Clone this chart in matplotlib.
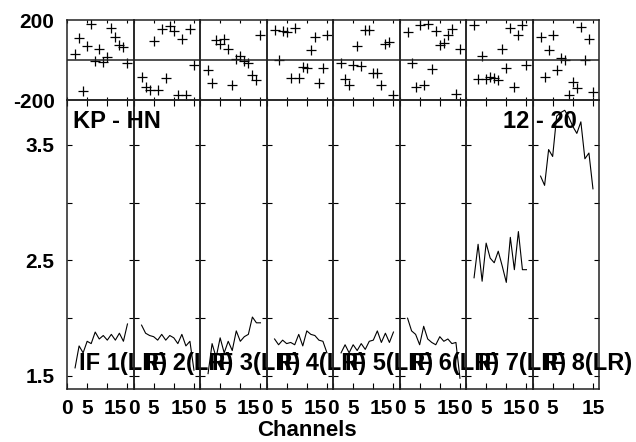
import numpy as np
import matplotlib
matplotlib.use("Agg")
import matplotlib.pyplot as plt

plt.rcParams['font.family'] = ['Liberation Sans', 'DejaVu Sans']
plt.rcParams['font.weight'] = 'bold'

# channels with data (edge channels flagged)
channels = np.arange(2, 16)

# phase per IF [deg]
phase_if1 = [30, 109, -157, 68, 179, -6, 57, -11, 14, 159, 113, 77, 63, -17]
phase_if2 = [-85, -133, -150, 94, -150, 153, -92, 168, 147, -176, 104, -174, 153, -27]
phase_if3 = [-52, -116, 101, 80, 106, 55, -126, 6, 19, -6, -17, -77, -101, 123]
phase_if4 = [151, -2, 147, 142, -91, 162, -91, -35, -42, 52, 113, -116, -42, 123]
phase_if5 = [-14, -96, -126, -25, 72, -30, 151, 151, -63, -63, -124, 81, 90, -175]
phase_if6 = [138, -14, -133, 173, -123, 179, -43, 144, 77, 84, 124, 154, -170, 54]
phase_if7 = [175, -96, 19, -96, -83, -89, -101, 55, -39, 159, -137, 126, 175, -27]
phase_if8 = [113, -85, 49, 123, -52, 11, -2, -174, -109, -141, 164, -2, 106, -159]

# amplitude per IF
amp_if1 = [1.57, 1.76, 1.70, 1.80, 1.78, 1.88, 1.82, 1.85, 1.81, 1.86, 1.81, 1.87, 1.80, 1.95]
amp_if2 = [1.94, 1.87, 1.85, 1.84, 1.81, 1.86, 1.81, 1.85, 1.83, 1.78, 1.86, 1.76, 1.80, 1.55]
amp_if3 = [1.52, 1.78, 1.66, 1.83, 1.70, 1.80, 1.72, 1.89, 1.80, 1.84, 1.86, 2.01, 1.96, 1.96]
amp_if4 = [1.82, 1.77, 1.81, 1.78, 1.79, 1.77, 1.86, 1.76, 1.89, 1.86, 1.85, 1.81, 1.80, 1.70]
amp_if5 = [1.70, 1.77, 1.70, 1.77, 1.72, 1.78, 1.73, 1.80, 1.81, 1.89, 1.79, 1.87, 1.79, 1.88]
amp_if6 = [2.00, 1.89, 1.86, 1.77, 1.93, 1.82, 1.79, 1.77, 1.84, 1.80, 1.82, 1.78, 1.79, 1.48]
amp_if7 = [2.35, 2.64, 2.32, 2.65, 2.52, 2.48, 2.58, 2.45, 2.31, 2.70, 2.42, 2.75, 2.42, 2.42]
amp_if8 = [3.23, 3.15, 3.46, 3.40, 3.75, 3.78, 3.80, 3.74, 3.66, 3.60, 3.70, 3.38, 3.43, 3.12]

if_labels = ['IF 1(LR)', 'IF 2(LR)', 'IF 3(LR)', 'IF 4(LR)',
             'IF 5(LR)', 'IF 6(LR)', 'IF 7(LR)', 'IF 8(LR)']
baseline_label = 'KP - HN'
time_label = '12 - 20'

phases = [phase_if1, phase_if2, phase_if3, phase_if4, phase_if5, phase_if6, phase_if7, phase_if8]
amps = [amp_if1, amp_if2, amp_if3, amp_if4, amp_if5, amp_if6, amp_if7, amp_if8]

W, H = 636, 442
fig = plt.figure(figsize=(W / 100, H / 100), dpi=100)

x0 = 67 / W
pw = 66.5 / W
spine_col = '#222222'

for i in range(8):
    axp = fig.add_axes([x0 + i * pw, 1 - 100 / H, pw, 80 / H])
    axa = fig.add_axes([x0 + i * pw, 1 - 389 / H, pw, 289 / H])
    for ax in (axp, axa):
        ax.patch.set_visible(False)
        ax.set_xlim(0, 16.5)
        for s in ax.spines.values():
            s.set_color(spine_col)
            s.set_linewidth(1.1)

    # phase panel
    axp.plot(channels, phases[i], '+', color='black', ms=7, mew=0.9)
    axp.axhline(0, color=spine_col, lw=1.1)
    axp.set_ylim(-200, 200)
    axp.set_xticks([0, 5, 10, 15])
    axp.set_xticklabels([])
    axp.tick_params(axis='x', direction='in', top=True, bottom=True, length=2, width=0.8)
    axp.set_yticks([-200, 200])
    axp.tick_params(axis='y', length=0, pad=9, labelsize=15)
    if i == 0:
        axp.set_yticklabels(['-200', '200'])
    else:
        axp.set_yticklabels([])

    # amplitude panel
    axa.plot(channels, amps[i], '-', color='black', lw=0.8)
    axa.set_ylim(1.387, 3.889)
    axa.set_xticks([0, 5, 10, 15])
    axa.set_xticklabels(['0', '5', '', '15'])
    axa.tick_params(axis='x', direction='in', top=True, bottom=True, length=4.5,
                    width=0.8, pad=7, labelsize=15)
    for lab in axa.get_xticklabels():
        if lab.get_text() == '15' and i < 7:
            lab.set_horizontalalignment('right')
    axa.set_yticks([1.5, 2.0, 2.5, 3.0, 3.5])
    axa.tick_params(axis='y', direction='in', left=True, right=True, length=3.5,
                    width=0.8, pad=9, labelsize=15)
    if i == 0:
        axa.set_yticklabels(['1.5', '', '2.5', '', '3.5'])
    else:
        axa.set_yticklabels([])

    axa.text(2.9, 1.554, if_labels[i], fontsize=17, fontweight='bold',
             va='baseline', ha='left', zorder=5)

fig.text(73 / W, 1 - 128 / H, baseline_label, fontsize=17, fontweight='bold', va='baseline')
fig.text(503 / W, 1 - 128 / H, time_label, fontsize=17, fontweight='bold', va='baseline')
fig.text(307 / W, 1 - 436 / H, 'Channels', fontsize=16, fontweight='bold',
         va='baseline', ha='center')

fig.savefig('out.png', dpi=100)
